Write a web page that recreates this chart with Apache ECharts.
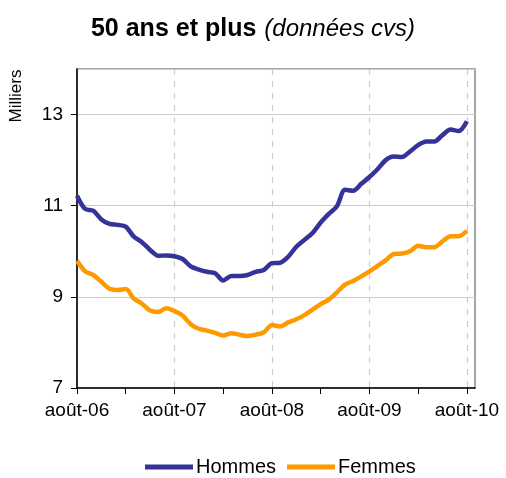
<!DOCTYPE html>
<html>
<head>
<meta charset="utf-8">
<script src="https://cdn.jsdelivr.net/npm/echarts@6/dist/echarts.min.js"></script>
<style>
    html, body { margin: 0; padding: 0; background: #fff; }
    #chart { width: 506px; height: 478px; }
</style>
</head>
<body>
<div id="chart"></div>
<script>
// mois d'août-06 à sept-10
var moisNoms = ['janv', 'févr', 'mars', 'avr', 'mai', 'juin', 'juil', 'août', 'sept', 'oct', 'nov', 'déc'];
var categories = [];
for (var k = 0; k < 50; k++) {
    var m = (7 + k) % 12;
    var y = 6 + Math.floor((7 + k) / 12);
    categories.push(moisNoms[m] + '-' + (y < 10 ? '0' + y : y));
}

var hommes = [11.22, 10.93, 10.89, 10.70, 10.60, 10.58, 10.54, 10.32, 10.20, 10.03,
    9.90, 9.91, 9.89, 9.83, 9.67, 9.60, 9.55, 9.52, 9.36, 9.46,
    9.46, 9.48, 9.55, 9.59, 9.74, 9.75, 9.88, 10.10, 10.25, 10.40,
    10.63, 10.82, 10.99, 11.35, 11.33, 11.48, 11.63, 11.80, 12.00, 12.08,
    12.07, 12.19, 12.33, 12.41, 12.41, 12.55, 12.67, 12.64, 12.85];

var femmes = [9.79, 9.56, 9.48, 9.33, 9.18, 9.15, 9.17, 8.96, 8.85, 8.70,
    8.67, 8.75, 8.69, 8.59, 8.40, 8.30, 8.26, 8.21, 8.15, 8.20,
    8.17, 8.14, 8.17, 8.22, 8.38, 8.35, 8.44, 8.51, 8.60, 8.72,
    8.84, 8.94, 9.10, 9.27, 9.35, 9.45, 9.56, 9.68, 9.80, 9.94,
    9.95, 10.00, 10.12, 10.09, 10.09, 10.22, 10.33, 10.33, 10.45];

var font = 'Liberation Sans, Arial, sans-serif';
var chart = echarts.init(document.getElementById('chart'));

chart.setOption({
    animation: false,
    backgroundColor: '#fff',
    title: {
        left: 'center',
        top: 12,
        text: '{b|50 ans et plus}{i|(données cvs)}',
        textStyle: {
            rich: {
                b: { fontFamily: font, fontSize: 25, fontWeight: 'bold', color: '#000', padding: [0, 8, 0, 0] },
                i: { fontFamily: font, fontSize: 24, fontWeight: 'normal', fontStyle: 'italic', color: '#000' }
            }
        }
    },
    graphic: [{
        type: 'text',
        x: 16,
        y: 96,
        rotation: Math.PI / 2,
        style: {
            text: 'Milliers',
            font: '17px ' + font,
            fill: '#000',
            align: 'center',
            verticalAlign: 'middle'
        }
    }],
    legend: {
        top: 452,
        left: 140,
        icon: 'rect',
        itemWidth: 48,
        itemHeight: 5,
        itemGap: 11,
        textStyle: { fontFamily: font, fontSize: 20, color: '#000', padding: [0, 0, 0, -2] },
        data: ['Hommes', 'Femmes']
    },
    grid: {
        left: 77,
        right: 31,
        top: 69,
        bottom: 90,
        show: true,
        borderColor: '#888',
        borderWidth: 1.5
    },
    xAxis: {
        type: 'category',
        data: categories,
        boundaryGap: false,
        axisLine: { lineStyle: { color: '#000', width: 1.5 } },
        axisTick: { interval: 5, length: 6, lineStyle: { color: '#000' } },
        axisLabel: { interval: 11, fontFamily: font, fontSize: 19, color: '#000', margin: 13 },
        splitLine: { show: true, interval: 11, lineStyle: { color: '#ccc', type: [6, 6], width: 1.2 } }
    },
    yAxis: {
        type: 'value',
        min: 7,
        max: 14,
        interval: 2,
        axisLine: { show: true, lineStyle: { color: '#000', width: 1.5 } },
        axisTick: { show: true, length: 6, lineStyle: { color: '#000' } },
        axisLabel: { showMaxLabel: false, fontFamily: font, fontSize: 19, color: '#000', margin: 14 },
        splitLine: { lineStyle: { color: '#ccc', width: 1.2 } }
    },
    series: [{
        name: 'Hommes',
        type: 'line',
        data: hommes,
        showSymbol: false,
        smooth: 0.3,
        itemStyle: { color: '#333399' },
        lineStyle: { color: '#333399', width: 4.5 }
    }, {
        name: 'Femmes',
        type: 'line',
        data: femmes,
        showSymbol: false,
        smooth: 0.3,
        itemStyle: { color: '#FF9900' },
        lineStyle: { color: '#FF9900', width: 4.5 }
    }]
});
</script>
</body>
</html>
